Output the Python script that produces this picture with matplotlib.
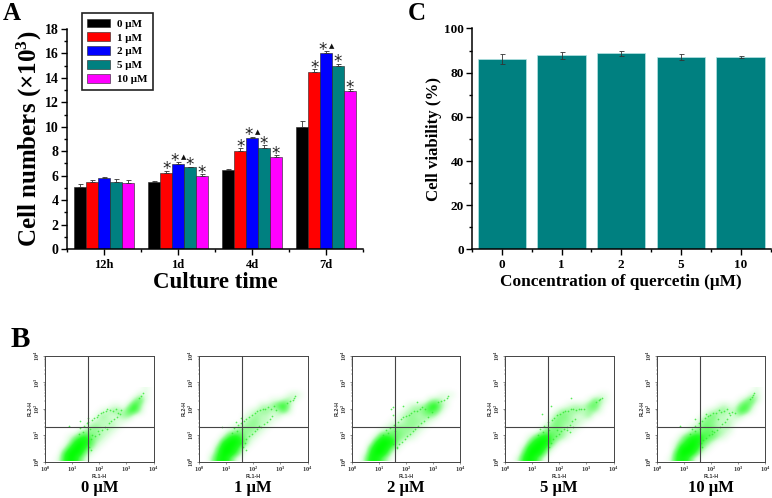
import matplotlib
matplotlib.use('Agg')
import matplotlib.pyplot as plt
from matplotlib.colors import LinearSegmentedColormap
import numpy as np

plt.rcParams['font.family'] = ['Liberation Serif', 'DejaVu Sans']
plt.rcParams['font.weight'] = 'bold'
plt.rcParams['axes.labelweight'] = 'bold'
plt.rcParams['mathtext.fontset'] = 'custom'
plt.rcParams['mathtext.bf'] = 'Liberation Serif:bold'
plt.rcParams['mathtext.rm'] = 'Liberation Serif:bold'

W, H = 772, 498

# Panel A data
times = ['12h', '1d', '4d', '7d']
doses = ['0 μM', '1 μM', '2 μM', '5 μM', '10 μM']
dose_colors = ['#000000', '#ff0000', '#0000ff', '#008080', '#ff00ff']
cells_0 = [5.1, 5.45, 6.5, 10.0]
cells_1 = [5.45, 6.25, 8.05, 14.5]
cells_2 = [5.8, 6.95, 9.1, 16.0]
cells_5 = [5.5, 6.7, 8.3, 15.0]
cells_10 = [5.4, 5.95, 7.5, 12.9]
err_0 = [0.25, 0.12, 0.05, 0.5]
err_1 = [0.2, 0.17, 0.18, 0.2]
err_2 = [0.12, 0.17, 0.08, 0.2]
err_5 = [0.2, 0.03, 0.22, 0.15]
err_10 = [0.22, 0.15, 0.2, 0.2]

# Panel C data
viability = [86.3, 87.8, 88.8, 87.2, 87.0]
viability_err = [2.2, 1.5, 1.2, 1.3, 0.5]
conc_labels = ['0', '1', '2', '5', '10']

# Panel B data: dot density, 0-9, cells 0.2 decade wide,
# first row is the bottom of the plot
density_0 = [
    '00169841000000000000',
    '00059983100000000000',
    '00016996310000000000',
    '00002798521000000000',
    '00001367432100000000',
    '00000023332210000000',
    '00000001332221000000',
    '00000000122221100000',
    '00000000013212330000',
    '00000000001233266200',
    '00000000000011037300',
    '00000000000000003510',
    '00000000000000000210',
    '00000000000000000010',
]
density_1 = [
    '00379620000000000000',
    '00169973000000000000',
    '00049985100000000000',
    '00017998410000000000',
    '00002686321000000000',
    '00000234332100000000',
    '00000012333210000000',
    '00000000233221000000',
    '00000000123221200000',
    '00000000012332252000',
    '00000000000223573000',
    '00000000000001123100',
    '00000000000000001210',
    '00000000000000000000',
]
density_2 = [
    '00388520000000000000',
    '00179961000000000000',
    '00059984100000000000',
    '00017998310000000000',
    '00002775432100000000',
    '00000234433210000000',
    '00000012333321000000',
    '00000001123332100000',
    '00000000123323320000',
    '00000000012334652000',
    '00000000001223673100',
    '00000000000000232100',
    '00000000000000001110',
    '00000000000000000000',
]
density_3 = [
    '00279730000000000000',
    '00059983000000000000',
    '00028996200000000000',
    '00004899520000000000',
    '00001478543100000000',
    '00000024443210000000',
    '00000002343221000000',
    '00000000243322100000',
    '00000000134321230000',
    '00000000013333233100',
    '00000000000122245200',
    '00000000000000014310',
    '00000000000000000110',
    '00000000000000000000',
]
density_4 = [
    '00168730000000000000',
    '00059984100000000000',
    '00028997310000000000',
    '00014798531000000000',
    '00002578654210000000',
    '00000134454321000000',
    '00000012443222000000',
    '00000001343222100000',
    '00000000134221220000',
    '00000000012332265100',
    '00000000000121146300',
    '00000000000000013520',
    '00000000000000000220',
    '00000000000000000010',
]
densities = [density_0, density_1, density_2, density_3, density_4]

scatter_x = [
    [1.3, 1.45, 1.55, 1.6, 1.72, 1.8, 1.9, 1.95, 2.05, 2.15, 2.25, 2.3, 2.4, 2.5, 2.6, 2.7, 2.8, 3.45, 3.55, 3.62,
     1.7, 1.75, 1.85, 1.95, 2.0, 2.1, 2.2, 2.3, 2.35, 2.45, 2.55, 2.65, 2.75, 1.25, 1.4, 1.65, 1.5, 1.62, 0.9, 1.6, 1.3, 1.7],
    [1.3, 1.45, 1.55, 1.65, 1.75, 1.85, 1.95, 2.05, 2.15, 2.25, 2.35, 2.45, 2.55, 2.65, 2.75, 3.25, 3.35, 3.45, 3.5, 3.55,
     1.68, 1.75, 1.85, 1.95, 2.05, 2.12, 2.2, 2.3, 2.4, 2.5, 2.6, 2.7, 2.85, 1.2, 1.4, 1.6, 1.5, 1.62, 0.85, 1.55, 1.35, 1.75],
    [1.25, 1.4, 1.55, 1.7, 1.8, 1.9, 2.0, 2.1, 2.2, 2.3, 2.4, 2.5, 2.6, 2.7, 3.2, 3.3, 3.4, 3.5, 3.55, 1.5,
     1.65, 1.75, 1.85, 1.95, 2.05, 2.15, 2.25, 2.35, 2.45, 2.55, 2.65, 2.8, 2.95, 1.15, 1.35, 1.6, 1.5, 1.65, 1.5, 1.9, 2.4, 1.45],
    [1.3, 1.45, 1.6, 1.72, 1.82, 1.92, 2.02, 2.12, 2.22, 2.32, 2.42, 2.52, 2.62, 2.72, 2.82, 2.92, 3.35, 3.45, 3.52, 3.58,
     1.68, 1.78, 1.88, 1.98, 2.08, 2.18, 2.28, 2.38, 2.48, 2.58, 2.3, 2.4, 2.5, 1.2, 1.4, 1.62, 1.5, 1.62, 1.35, 2.45, 1.7, 1.9],
    [1.3, 1.42, 1.55, 1.68, 1.78, 1.88, 1.98, 2.08, 2.18, 2.28, 2.38, 2.48, 2.58, 2.68, 2.78, 2.88, 3.45, 3.5, 3.55, 3.6,
     1.62, 1.72, 1.82, 1.92, 2.02, 2.12, 2.22, 2.32, 2.42, 2.5, 2.6, 2.7, 2.25, 1.22, 1.4, 1.6, 1.5, 1.65, 0.85, 1.8, 1.4, 2.05],
]
scatter_y = [
    [1.28, 1.35, 1.45, 1.5, 1.58, 1.65, 1.7, 1.78, 1.82, 1.88, 1.9, 1.98, 1.95, 1.92, 2.0, 1.85, 1.95, 2.42, 2.5, 2.58,
     0.85, 1.0, 0.95, 1.15, 1.05, 1.2, 1.3, 1.25, 1.45, 1.55, 1.6, 1.7, 1.8, 1.05, 1.12, 1.22, 0.72, 0.55, 1.35, 1.65, 1.55, 0.42],
    [1.28, 1.38, 1.45, 1.55, 1.62, 1.68, 1.75, 1.82, 1.9, 1.95, 2.0, 1.98, 2.05, 2.0, 2.1, 2.2, 2.28, 2.35, 2.4, 2.48,
     0.7, 0.85, 0.95, 1.05, 1.15, 1.25, 1.35, 1.32, 1.42, 1.5, 1.6, 1.72, 1.95, 1.08, 1.15, 1.22, 0.72, 0.55, 1.3, 1.65, 1.5, 0.42],
    [1.18, 1.28, 1.38, 1.5, 1.6, 1.68, 1.72, 1.78, 1.85, 1.9, 1.92, 1.98, 2.05, 2.0, 2.24, 2.3, 2.35, 2.42, 2.48, 1.75,
     0.55, 0.65, 0.75, 0.85, 0.95, 1.05, 1.15, 1.25, 1.35, 1.45, 1.55, 1.7, 1.88, 1.0, 1.08, 1.15, 0.65, 0.5, 2.05, 2.1, 2.25, 2.0],
    [1.25, 1.35, 1.48, 1.58, 1.65, 1.75, 1.8, 1.88, 1.9, 1.92, 1.98, 2.0, 1.95, 2.0, 2.0, 2.0, 2.25, 2.32, 2.38, 2.42,
     0.7, 0.85, 0.95, 1.05, 1.15, 1.25, 1.3, 1.4, 1.55, 1.62, 1.2, 1.1, 1.3, 1.0, 1.12, 1.2, 0.75, 0.55, 1.8, 2.4, 2.1, 1.2],
    [1.22, 1.35, 1.45, 1.55, 1.65, 1.72, 1.78, 1.82, 1.85, 1.95, 1.88, 1.9, 1.98, 1.85, 1.88, 1.85, 2.38, 2.45, 2.52, 2.6,
     0.7, 0.8, 0.88, 1.0, 1.05, 1.12, 1.2, 1.3, 1.42, 1.5, 1.62, 1.75, 1.6, 1.05, 1.15, 1.25, 0.72, 0.55, 1.35, 1.8, 1.6, 1.15],
]
flow_boxes = [(45, 153.5), (199, 307.5), (352, 460), (505, 613.5), (657, 765)]
flow_gate_x = [1.6, 1.6, 1.6, 1.6, 1.6]
flow_gate_y = [1.31, 1.31, 1.31, 1.31, 1.31]
decades = [0, 1, 2, 3, 4]


def axes_px(x0, x1, y_top, y_bottom):
    # pixel box from the reference -> figure fraction
    return [x0 / W, 1 - y_bottom / H, (x1 - x0) / W, (y_bottom - y_top) / H]


fig = plt.figure(figsize=(W / 100, H / 100), dpi=100, facecolor='white')

# --- A ---
ax = fig.add_axes(axes_px(67, 363, 29, 249))
group_x = np.arange(1, len(times) + 1)
series = [cells_0, cells_1, cells_2, cells_5, cells_10]
errors = [err_0, err_1, err_2, err_5, err_10]
bar_w = 0.16
handles = []
for i, (vals, errs, col) in enumerate(zip(series, errors, dose_colors)):
    pos = group_x + (i - 2) * bar_w
    b = ax.bar(pos, vals, bar_w, color=col, edgecolor='#222222', linewidth=0.4, label=doses[i],
               yerr=[[0] * len(errs), errs], error_kw=dict(ecolor='#333333', elinewidth=0.6, capsize=1.8, capthick=0.6))
    handles.append(b)
    if i > 0:
        star_dx = -2.5 if i == 2 else 0
        for px, v, e in list(zip(pos, vals, errs))[1:]:
            ax.annotate('*', (px, v + e), xytext=(star_dx, -5.5), textcoords='offset points', ha='center', va='bottom',
                        fontsize=12, family='DejaVu Sans', fontweight='normal', color='#222222')
            if i == 2:
                ax.annotate('▲', (px, v + e), xytext=(4, 1.5), textcoords='offset points', ha='center', va='bottom',
                            fontsize=5, family='DejaVu Sans', color='#111111')
ax.set_xlim(0.5, 4.5)
ax.set_ylim(0, 18)
ax.set_xticks(group_x)
ax.set_xticklabels(times, fontsize=9)
ax.set_xticks(np.arange(0.5, 5, 1), minor=True)
ax.set_yticks(range(0, 19, 2))
ax.set_yticks(range(1, 18, 2), minor=True)
ax.tick_params(axis='y', labelsize=10, width=1, length=4, pad=2)
ax.tick_params(axis='x', width=1, length=4, pad=3)
ax.tick_params(which='minor', width=1, length=2.5)
ax.set_ylabel('Cell numbers (×10$\\mathbf{^{3}}$)', fontsize=18, labelpad=0.5)
ax.set_xlabel('Culture time', fontsize=16.5, labelpad=1)
ax.spines['top'].set_visible(False)
ax.spines['right'].set_visible(False)
ax.spines['left'].set_linewidth(1.1)
ax.spines['bottom'].set_linewidth(1.1)
leg = ax.legend(handles=handles, loc='upper left', bbox_to_anchor=(81.5 / W, 1 - 13 / H),
                bbox_transform=fig.transFigure, fontsize=8, fancybox=False, framealpha=1, edgecolor='#222222',
                borderaxespad=0, handlelength=2.1, handleheight=0.8, labelspacing=0.34, handletextpad=0.6,
                borderpad=0.5)
leg.get_frame().set_linewidth(1.2)
leg.set_zorder(5)

# --- C ---
ax2 = fig.add_axes(axes_px(472, 770.5, 28.5, 249.5))
conc_x = np.arange(1, len(viability) + 1)
ax2.bar(conc_x, viability, 0.81, color='#008080', edgecolor='#b5e3e3', linewidth=0.5,
        yerr=viability_err, error_kw=dict(ecolor='#333333', elinewidth=0.6, capsize=1.8, capthick=0.6))
ax2.set_xlim(0.5, 5.5)
ax2.set_ylim(0, 100)
ax2.set_xticks(conc_x)
ax2.set_xticklabels(conc_labels, fontsize=9.5)
ax2.set_xticks(np.arange(0.5, 6, 1), minor=True)
ax2.set_yticks(range(0, 101, 20))
ax2.set_yticks(range(10, 100, 20), minor=True)
ax2.tick_params(axis='y', labelsize=9.5, width=1, length=4, pad=2)
ax2.tick_params(axis='x', width=1, length=4, pad=3)
ax2.tick_params(which='minor', width=1, length=2.5)
ax2.set_ylabel('Cell viability (%)', fontsize=12.1, labelpad=1)
ax2.set_xlabel('Concentration of quercetin (μM)', fontsize=12.4, labelpad=2)
ax2.spines['top'].set_visible(False)
ax2.spines['right'].set_visible(False)
ax2.spines['left'].set_linewidth(1.1)
ax2.spines['bottom'].set_linewidth(1.1)

# --- B ---
greens = LinearSegmentedColormap.from_list('dots', [(0, '#ffffff'), (0.15, '#dcfddc'), (0.35, '#90fb90'),
                                                    (0.7, '#28fd28'), (1, '#00ff00')])
minor_pos = np.log10(np.arange(2, 10))
for i, (x0, x1) in enumerate(flow_boxes):
    fa = fig.add_axes(axes_px(x0, x1, 356, 461.5))
    grid = np.array([[int(c) for c in row] for row in densities[i]])
    fa.imshow(grid, origin='lower', extent=(0, 4, 0, 0.2 * len(grid)), cmap=greens, vmin=0, vmax=9,
              interpolation='bicubic', aspect='auto')
    fa.scatter(scatter_x[i], scatter_y[i], s=1.5, color='#30e830', alpha=0.8, linewidths=0)
    fa.set_xlim(0, 4)
    fa.set_ylim(0, 4)
    fa.axvline(flow_gate_x[i], color='#444444', lw=0.8)
    fa.axhline(flow_gate_y[i], color='#444444', lw=0.8)
    labels = ['10$^{%d}$' % d for d in decades]
    fa.set_xticks(decades)
    fa.set_xticklabels(labels)
    fa.set_yticks(decades)
    fa.set_yticklabels(labels, rotation=90, va='center')
    minors = np.concatenate([d + minor_pos for d in decades[:-1]])
    fa.set_xticks(minors, minor=True)
    fa.set_yticks(minors, minor=True)
    fa.tick_params(which='major', labelsize=4.5, length=1.6, width=0.4, pad=0.8, color='#444444', labelcolor='#333333')
    fa.tick_params(which='minor', length=0.9, width=0.3, color='#444444')
    fa.set_xlabel('FL1-H', fontsize=3.8, labelpad=0, color='#333333', family='Liberation Sans')
    fa.set_ylabel('FL2-H', fontsize=3.8, labelpad=0, color='#333333', family='Liberation Sans')
    for s in fa.spines.values():
        s.set_linewidth(0.7)
        s.set_color('#444444')
    fig.text((x0 + x1) / 2 / W, 1 - 488 / H, doses[i], ha='center', va='center', fontsize=12)

# panel letters
fig.text(3 / W, 1 - 20 / H, 'A', fontsize=18, va='baseline')
fig.text(11 / W, 1 - 347 / H, 'B', fontsize=21, va='baseline')
fig.text(408 / W, 1 - 20 / H, 'C', fontsize=18, va='baseline')

fig.savefig('out.png', dpi=100)
